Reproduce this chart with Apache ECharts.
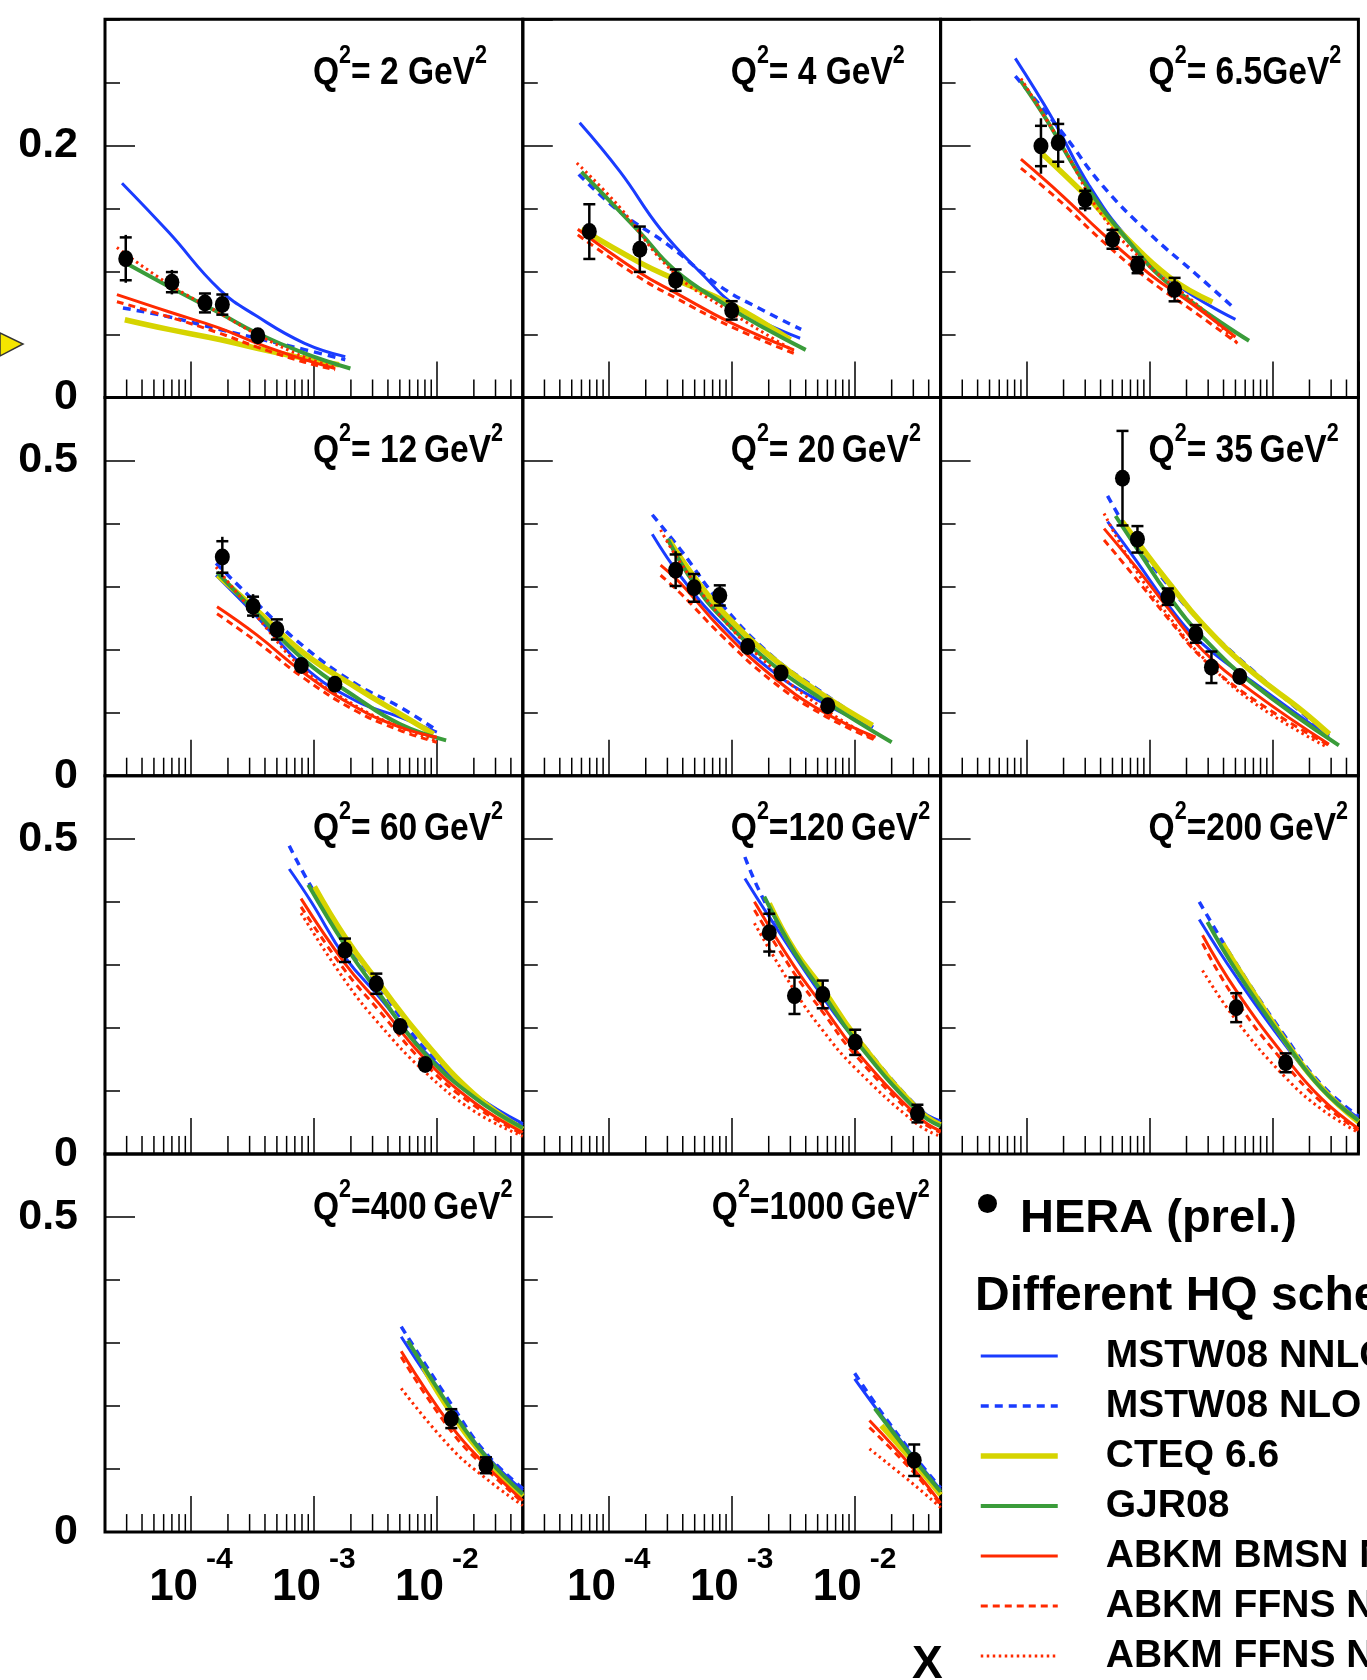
<!DOCTYPE html>
<html>
<head>
<meta charset="utf-8">
<title>F2 charm vs x</title>
<script src="https://cdn.jsdelivr.net/npm/echarts@6/dist/echarts.min.js"></script>
<style>
  html, body { margin: 0; padding: 0; background: #fff; }
  #chart { width: 1367px; height: 1680px; }
</style>
</head>
<body>
<div id="chart"></div>
<script>
// ---- data ----
const q2Labels = ['2', '4', '6.5', '12', '20', '35', '60', '120', '200', '400', '1000'];
const titleMid = ['= 2 GeV', '= 4 GeV', '= 6.5GeV', '= 12\u2009GeV', '= 20\u2009GeV', '= 35\u2009GeV',
  '= 60\u2009GeV', '=120\u2009GeV', '=200\u2009GeV', '=400\u2009GeV', '=1000\u2009GeV'];
const modelNames = ['MSTW08 NNLO', 'MSTW08 NLO', 'CTEQ 6.6', 'GJR08', 'ABKM BMSN NNLO', 'ABKM FFNS NNLO', 'ABKM FFNS NLO'];
const xMinorTicks = [3e-5, 4e-5, 5e-5, 6e-5, 7e-5, 8e-5, 9e-5,
  2e-4, 3e-4, 4e-4, 5e-4, 6e-4, 7e-4, 8e-4, 9e-4,
  2e-3, 3e-3, 4e-3, 5e-3, 6e-3, 7e-3, 8e-3, 9e-3,
  2e-2, 3e-2, 4e-2];

// HERA points: [x, F2cc, stat err, total err]
const hera = [
  [[2.95e-5, 0.110, 0.017, 0.019], [7e-5, 0.0915, 0.008, 0.0097], [1.3e-4, 0.075, 0.0075, 0.0075], [1.8e-4, 0.0737, 0.008, 0.008], [3.5e-4, 0.049, 0.003, 0.003]],
  [[6.95e-5, 0.1316, 0.0217, 0.0217], [1.79e-4, 0.1176, 0.018, 0.018], [3.5e-4, 0.0931, 0.0085, 0.0085], [1e-3, 0.0691, 0.0073, 0.0073]],
  [[1.31e-4, 0.1995, 0.016, 0.022], [1.81e-4, 0.202, 0.015, 0.0195], [3.0e-4, 0.157, 0.007, 0.0093], [5.0e-4, 0.1255, 0.0075, 0.0075], [8e-4, 0.105, 0.0064, 0.0064], [1.6e-3, 0.0856, 0.0093, 0.0093]],
  [[1.8e-4, 0.347, 0.025, 0.032], [3.2e-4, 0.269, 0.015, 0.019], [5.0e-4, 0.232, 0.016, 0.016], [7.9e-4, 0.175, 0.004, 0.004], [1.48e-3, 0.145, 0.004, 0.004]],
  [[3.5e-4, 0.326, 0.025, 0.030], [4.94e-4, 0.298, 0.022, 0.022], [8e-4, 0.286, 0.016, 0.016], [1.35e-3, 0.205, 0.005, 0.005], [2.52e-3, 0.163, 0.005, 0.005], [6.05e-3, 0.111, 0.005, 0.005]],
  [[6.03e-4, 0.472, 0.075, 0.075], [7.98e-4, 0.375, 0.021, 0.021], [1.41e-3, 0.284, 0.013, 0.013], [2.38e-3, 0.225, 0.014, 0.014], [3.19e-3, 0.172, 0.025, 0.025], [5.42e-3, 0.1575, 0.005, 0.005]],
  [[1.79e-3, 0.323, 0.0186, 0.0186], [3.22e-3, 0.270, 0.016, 0.016], [5.03e-3, 0.202, 0.004, 0.004], [8.05e-3, 0.142, 0.004, 0.004]],
  [[2.02e-3, 0.351, 0.030, 0.038], [3.24e-3, 0.251, 0.029, 0.029], [5.5e-3, 0.253, 0.022, 0.022], [1.01e-2, 0.177, 0.020, 0.020], [3.24e-2, 0.064, 0.014, 0.014]],
  [[5.07e-3, 0.232, 0.023, 0.023], [1.28e-2, 0.1445, 0.015, 0.015]],
  [[1.31e-2, 0.180, 0.015, 0.015], [2.51e-2, 0.106, 0.0126, 0.0126]],
  [[3.05e-2, 0.114, 0.025, 0.025]]
];

const mstwNnlo = [
  [[2.75e-5, 0.170], [6.6e-5, 0.131], [1.71e-4, 0.0856], [3.45e-4, 0.0644], [8.4e-4, 0.043], [1.8e-3, 0.0324]],
  [[5.8e-5, 0.218], [1.24e-4, 0.179], [2.64e-4, 0.1335], [5.6e-4, 0.099], [1.19e-3, 0.0697], [3.6e-3, 0.047]],
  [[8.1e-5, 0.269], [1.63e-4, 0.221], [3.24e-4, 0.168], [6.84e-4, 0.125], [1.64e-3, 0.090], [5.0e-3, 0.062]],
  [[1.6e-4, 0.318], [3.45e-4, 0.252], [8.4e-4, 0.172], [2.18e-3, 0.119], [5.0e-3, 0.093], [1.0e-2, 0.069]],
  [[2.26e-4, 0.383], [3.85e-4, 0.316], [8.2e-4, 0.241], [2.1e-3, 0.167], [5.35e-3, 0.117], [1.41e-2, 0.077]],
  [[4.56e-4, 0.403], [7.75e-4, 0.342], [1.45e-3, 0.268], [2.7e-3, 0.209], [6.9e-3, 0.149], [2.88e-2, 0.061]],
  [[6.3e-4, 0.452], [9.5e-4, 0.400], [1.79e-3, 0.312], [3.4e-3, 0.249], [7.8e-3, 0.164], [2.0e-2, 0.095], [5.0e-2, 0.048]],
  [[1.28e-3, 0.437], [2.02e-3, 0.376], [5.5e-3, 0.249], [1.0e-2, 0.182], [3.24e-2, 0.073], [5.0e-2, 0.052]],
  [[2.54e-3, 0.372], [5.07e-3, 0.281], [1.28e-2, 0.172], [2.5e-2, 0.105], [5.0e-2, 0.057]],
  [[5.13e-3, 0.310], [1.31e-2, 0.192], [2.51e-2, 0.122], [5.0e-2, 0.066]],
  [[1.0e-2, 0.243], [1.65e-2, 0.185], [3.05e-2, 0.118], [5.0e-2, 0.067]]
];

const mstwNlo = [
  [[2.8e-5, 0.071], [6.6e-5, 0.064], [1.71e-4, 0.054], [3.45e-4, 0.047], [8.4e-4, 0.038], [1.8e-3, 0.030]],
  [[5.7e-5, 0.177], [1.24e-4, 0.147], [3.0e-4, 0.1215], [8.1e-4, 0.088], [1.73e-3, 0.070], [3.67e-3, 0.054]],
  [[8.1e-5, 0.255], [1.96e-4, 0.210], [4.15e-4, 0.168], [1e-3, 0.130], [2.38e-3, 0.098], [5.0e-3, 0.070]],
  [[1.6e-4, 0.337], [3.45e-4, 0.273], [8.4e-4, 0.204], [2.18e-3, 0.146], [5.0e-3, 0.109], [1.0e-2, 0.072]],
  [[2.26e-4, 0.414], [3.85e-4, 0.358], [8.2e-4, 0.273], [2.1e-3, 0.191], [5.35e-3, 0.133], [1.41e-2, 0.077]],
  [[4.56e-4, 0.444], [7.75e-4, 0.369], [1.45e-3, 0.300], [2.7e-3, 0.241], [6.9e-3, 0.167], [2.88e-2, 0.064]],
  [[6.3e-4, 0.489], [9.5e-4, 0.424], [1.79e-3, 0.339], [3.4e-3, 0.265], [7.8e-3, 0.169], [2.0e-2, 0.095], [5.0e-2, 0.045]],
  [[1.28e-3, 0.471], [2.02e-3, 0.387], [5.5e-3, 0.259], [1.0e-2, 0.190], [3.24e-2, 0.074], [5.0e-2, 0.049]],
  [[2.54e-3, 0.400], [5.07e-3, 0.302], [1.28e-2, 0.185], [2.5e-2, 0.110], [5.0e-2, 0.060]],
  [[5.13e-3, 0.326], [1.31e-2, 0.203], [2.51e-2, 0.125], [5.0e-2, 0.069]],
  [[1.0e-2, 0.252], [1.65e-2, 0.190], [3.05e-2, 0.121], [5.0e-2, 0.070]]
];

const cteq66 = [
  [[2.9e-5, 0.0617], [6.6e-5, 0.054], [1.71e-4, 0.046], [3.45e-4, 0.039], [8.4e-4, 0.031], [1.6e-3, 0.026]],
  [[6e-5, 0.1335], [1.79e-4, 0.107], [3.5e-4, 0.0936], [1e-3, 0.0737], [3.0e-3, 0.0457]],
  [[1.35e-4, 0.193], [3.05e-4, 0.160], [6.0e-4, 0.130], [1.44e-3, 0.0957], [3.25e-3, 0.0758]],
  [[1.65e-4, 0.318], [3.45e-4, 0.262], [8.4e-4, 0.1935], [2.18e-3, 0.1405], [5.0e-3, 0.098], [9.4e-3, 0.066]],
  [[3.09e-4, 0.374], [4.94e-4, 0.3155], [8.2e-4, 0.2625], [2.1e-3, 0.188], [5.35e-3, 0.130], [1.4e-2, 0.080]],
  [[6.0e-4, 0.403], [7.98e-4, 0.371], [1.45e-3, 0.305], [2.7e-3, 0.241], [6.9e-3, 0.164], [1.75e-2, 0.103], [2.9e-2, 0.066]],
  [[1.01e-3, 0.424], [1.79e-3, 0.344], [3.4e-3, 0.270], [7.8e-3, 0.180], [2.0e-2, 0.095], [5.0e-2, 0.039]],
  [[2.02e-3, 0.3975], [3.24e-3, 0.323], [5.5e-3, 0.262], [1.0e-2, 0.188], [3.24e-2, 0.071], [5.0e-2, 0.046]],
  [[3.93e-3, 0.334], [5.07e-3, 0.299], [1.28e-2, 0.1785], [2.5e-2, 0.105], [5.0e-2, 0.051]],
  [[7.76e-3, 0.2615], [1.31e-2, 0.189], [2.51e-2, 0.117], [5.0e-2, 0.057]],
  [[1.65e-2, 0.169], [3.05e-2, 0.110], [5.0e-2, 0.059]]
];

const gjr08 = [
  [[2.9e-5, 0.107], [6.6e-5, 0.088], [1.71e-4, 0.067], [3.45e-4, 0.051], [8.4e-4, 0.035], [1.98e-3, 0.023]],
  [[6e-5, 0.179], [1.79e-4, 0.131], [3.4e-4, 0.1016], [9.25e-4, 0.0723], [1.96e-3, 0.0537], [4.0e-3, 0.0378]],
  [[9e-5, 0.251], [1.44e-4, 0.221], [3.05e-4, 0.168], [6.0e-4, 0.130], [1.44e-3, 0.090], [6.45e-3, 0.045]],
  [[1.63e-4, 0.323], [3.45e-4, 0.257], [8.4e-4, 0.183], [2.18e-3, 0.125], [5.0e-3, 0.082], [1.19e-2, 0.056]],
  [[3.0e-4, 0.376], [4.94e-4, 0.305], [8.2e-4, 0.252], [2.1e-3, 0.178], [5.35e-3, 0.122], [2.0e-2, 0.053]],
  [[5.3e-4, 0.412], [7.75e-4, 0.363], [1.45e-3, 0.284], [2.7e-3, 0.220], [6.9e-3, 0.146], [3.47e-2, 0.048]],
  [[9.0e-4, 0.427], [1.79e-3, 0.331], [3.4e-3, 0.254], [7.8e-3, 0.161], [2.0e-2, 0.090], [5.0e-2, 0.041]],
  [[1.84e-3, 0.408], [3.24e-3, 0.320], [5.5e-3, 0.255], [1.0e-2, 0.182], [3.24e-2, 0.068], [5.0e-2, 0.044]],
  [[2.96e-3, 0.368], [5.07e-3, 0.291], [1.28e-2, 0.177], [2.5e-2, 0.104], [5.0e-2, 0.053]],
  [[5.8e-3, 0.304], [1.31e-2, 0.1945], [2.51e-2, 0.1195], [5.0e-2, 0.0606]],
  [[1.46e-2, 0.196], [3.05e-2, 0.115], [5.0e-2, 0.064]]
];

const abkmBmsn = [
  [[2.5e-5, 0.0816], [6.6e-5, 0.068], [1.71e-4, 0.055], [3.45e-4, 0.043], [8.4e-4, 0.030], [1.49e-3, 0.023]],
  [[5.6e-5, 0.1335], [1.79e-4, 0.099], [3.5e-4, 0.083], [1e-3, 0.059], [3.2e-3, 0.0378]],
  [[9e-5, 0.189], [1.96e-4, 0.160], [4.15e-4, 0.130], [1e-3, 0.098], [2.38e-3, 0.072], [5.0e-3, 0.048]],
  [[1.63e-4, 0.268], [3.45e-4, 0.223], [8.4e-4, 0.162], [2.18e-3, 0.109], [5.0e-3, 0.077], [1.0e-2, 0.061]],
  [[2.64e-4, 0.334], [3.85e-4, 0.305], [8.2e-4, 0.233], [2.1e-3, 0.159], [5.35e-3, 0.103], [1.48e-2, 0.061]],
  [[4.27e-4, 0.392], [7.75e-4, 0.331], [1.45e-3, 0.263], [2.7e-3, 0.199], [6.9e-3, 0.133], [2.88e-2, 0.050]],
  [[7.86e-4, 0.405], [1.79e-3, 0.302], [3.4e-3, 0.238], [7.8e-3, 0.153], [2.0e-2, 0.082], [5.0e-2, 0.034]],
  [[1.53e-3, 0.400], [3.24e-3, 0.297], [5.5e-3, 0.235], [1.0e-2, 0.166], [3.24e-2, 0.060], [5.0e-2, 0.036]],
  [[2.7e-3, 0.347], [5.07e-3, 0.259], [1.28e-2, 0.153], [2.5e-2, 0.088], [5.0e-2, 0.040]],
  [[5.13e-3, 0.287], [1.31e-2, 0.168], [2.51e-2, 0.106], [5.0e-2, 0.050]],
  [[1.32e-2, 0.177], [3.05e-2, 0.099], [5.0e-2, 0.046]]
];

const abkmFfnsNnlo = [
  [[2.5e-5, 0.076], [6.6e-5, 0.064], [1.71e-4, 0.051], [3.45e-4, 0.040], [8.4e-4, 0.028], [1.49e-3, 0.022]],
  [[5.6e-5, 0.129], [1.79e-4, 0.095], [3.5e-4, 0.079], [1e-3, 0.056], [3.2e-3, 0.035]],
  [[9e-5, 0.182], [1.96e-4, 0.154], [4.15e-4, 0.124], [1e-3, 0.093], [2.38e-3, 0.067], [5.2e-3, 0.043]],
  [[1.63e-4, 0.257], [3.45e-4, 0.212], [8.4e-4, 0.154], [2.18e-3, 0.103], [5.0e-3, 0.072], [1.0e-2, 0.053]],
  [[2.64e-4, 0.318], [3.85e-4, 0.289], [8.2e-4, 0.223], [2.1e-3, 0.151], [5.35e-3, 0.098], [1.48e-2, 0.056]],
  [[4.27e-4, 0.374], [7.75e-4, 0.313], [1.45e-3, 0.247], [2.7e-3, 0.186], [6.9e-3, 0.122], [2.88e-2, 0.048]],
  [[7.86e-4, 0.392], [1.79e-3, 0.291], [3.4e-3, 0.227], [7.8e-3, 0.145], [2.0e-2, 0.077], [5.0e-2, 0.031]],
  [[1.53e-3, 0.387], [3.24e-3, 0.286], [5.5e-3, 0.225], [1.0e-2, 0.158], [3.24e-2, 0.056], [5.0e-2, 0.034]],
  [[2.7e-3, 0.334], [5.07e-3, 0.243], [1.28e-2, 0.142], [2.5e-2, 0.082], [5.0e-2, 0.037]],
  [[5.13e-3, 0.278], [1.31e-2, 0.160], [2.51e-2, 0.101], [5.0e-2, 0.047]],
  [[1.32e-2, 0.166], [3.05e-2, 0.094], [5.0e-2, 0.043]]
];

const abkmFfnsNlo = [
  [[2.5e-5, 0.119], [6.6e-5, 0.090], [1.71e-4, 0.067], [3.45e-4, 0.050], [8.4e-4, 0.032], [1.49e-3, 0.024]],
  [[5.5e-5, 0.186], [1.2e-4, 0.152], [3.3e-4, 0.100], [9e-4, 0.070], [3.2e-3, 0.037]],
  [[9e-5, 0.253], [1.96e-4, 0.1995], [4.15e-4, 0.144], [1e-3, 0.104], [2.38e-3, 0.0745], [5.2e-3, 0.043]],
  [[1.6e-4, 0.331], [3.45e-4, 0.252], [8.4e-4, 0.167], [2.18e-3, 0.111], [5.0e-3, 0.077], [1.0e-2, 0.055]],
  [[2.64e-4, 0.390], [3.85e-4, 0.337], [8.2e-4, 0.252], [2.1e-3, 0.172], [5.35e-3, 0.109], [1.45e-2, 0.058]],
  [[4.27e-4, 0.416], [7.75e-4, 0.326], [1.45e-3, 0.252], [2.7e-3, 0.188], [6.9e-3, 0.117], [2.8e-2, 0.045]],
  [[7.86e-4, 0.382], [1.79e-3, 0.275], [3.4e-3, 0.206], [7.8e-3, 0.132], [2.0e-2, 0.068], [5.0e-2, 0.028]],
  [[1.53e-3, 0.366], [3.24e-3, 0.259], [5.5e-3, 0.196], [1.0e-2, 0.137], [3.24e-2, 0.047], [5.0e-2, 0.028]],
  [[2.7e-3, 0.291], [5.07e-3, 0.212], [1.28e-2, 0.121], [2.5e-2, 0.071], [5.0e-2, 0.034]],
  [[5.13e-3, 0.228], [1.31e-2, 0.133], [2.51e-2, 0.085], [5.0e-2, 0.042]],
  [[1.32e-2, 0.132], [3.05e-2, 0.075], [5.0e-2, 0.039]]
];

// ---- styling ----
const modelData = [mstwNnlo, mstwNlo, cteq66, gjr08, abkmBmsn, abkmFfnsNnlo, abkmFfnsNlo];
const modelColors = ['#1a3cff', '#1a3cff', '#d6d400', '#3a9c3a', '#ff2a00', '#ff2a00', '#ff2a00'];
const modelWidths = [3, 3.5, 5.5, 4, 3, 3, 3];
const modelDash = ['solid', [8, 6], 'solid', 'solid', 'solid', [7, 5], [2.5, 3.5]];

const sans = "'Liberation Sans', Arial, Helvetica, sans-serif";

const gridLeft = 105, gridTop = 19.3, gridW = 417.8, gridH = 378.2;

const chart = echarts.init(document.getElementById('chart'), null, { renderer: 'canvas' });

const option = {
  animation: false,
  backgroundColor: '#fff',
  grid: [], xAxis: [], yAxis: [], series: [],
  legend: [],
  graphic: []
};

function renderMinorTick(params, api) {
  const p = api.coord([api.value(0), 0]);
  return {
    type: 'line',
    shape: { x1: p[0], y1: p[1], x2: p[0], y2: p[1] - 18 },
    style: { stroke: '#000', lineWidth: 1.5 }
  };
}

function renderErrorBar(params, api) {
  const x = api.value(0), y = api.value(1), s = api.value(2), t = api.value(3);
  const a = api.coord([x, y + t]), b = api.coord([x, y - t]);
  const c = api.coord([x, y + s]), d = api.coord([x, y - s]);
  const st = { stroke: '#000', lineWidth: 2.5 };
  return {
    type: 'group',
    children: [
      { type: 'line', shape: { x1: a[0], y1: a[1], x2: b[0], y2: b[1] }, style: st },
      { type: 'line', shape: { x1: c[0] - 6, y1: c[1], x2: c[0] + 6, y2: c[1] }, style: st },
      { type: 'line', shape: { x1: d[0] - 6, y1: d[1], x2: d[0] + 6, y2: d[1] }, style: st }
    ]
  };
}

function decadeLabel(v) {
  const lg = Math.log10(v);
  const e = Math.round(lg);
  if (Math.abs(lg - e) > 0.01) return '';
  return '{b|10}{s|' + e + '}';
}

q2Labels.forEach((q, i) => {
  const row = Math.floor(i / 3), col = i % 3;
  const left = gridLeft + col * gridW, top = gridTop + row * gridH;
  const yMax = row === 0 ? 0.3 : 0.6;
  const majorStep = row === 0 ? 0.2 : 0.5;
  const minorStep = row === 0 ? 0.05 : 0.1;

  option.grid.push({
    left: left, top: top, width: gridW, height: gridH,
    show: true, borderColor: '#000', borderWidth: 3, backgroundColor: 'transparent',
    outerBoundsMode: 'none'
  });

  // panel title, narrowed like the condensed face of the original
  option.graphic.push({
    type: 'text', x: left + (q === '1000' ? 189 : 208), y: top + 24, scaleX: 0.86,
    style: {
      text: '{q|Q}{s|2}{q|' + titleMid[i] + '}{s|2}',
      rich: {
        q: { fontSize: 39, fontWeight: 'bold', fontFamily: sans, fill: '#000', lineHeight: 60 },
        s: { fontSize: 25, fontWeight: 'bold', fontFamily: sans, fill: '#000', lineHeight: 24, verticalAlign: 'top' }
      }
    },
    z: 10
  });

  option.xAxis.push({
    type: 'log', logBase: 10, gridIndex: i, min: 2e-5, max: 0.05,
    axisLine: { show: false },
    splitLine: { show: false },
    axisTick: { show: true, inside: true, length: 36, lineStyle: { color: '#000', width: 1.5 } },
    axisLabel: {
      show: row === 3, interval: 0, margin: 13, color: '#000',
      formatter: decadeLabel,
      rich: {
        b: { fontSize: 44, fontWeight: 'bold', fontFamily: sans, color: '#000', lineHeight: 86 },
        s: { fontSize: 30, fontWeight: 'bold', fontFamily: sans, color: '#000', lineHeight: 32, verticalAlign: 'top', padding: [0, 0, 0, 8] }
      }
    }
  });

  // minor y ticks
  option.yAxis.push({
    type: 'value', gridIndex: i, position: 'left', min: 0, max: yMax, interval: minorStep,
    axisLine: { show: false }, splitLine: { show: false },
    axisTick: { show: true, inside: true, length: 15, lineStyle: { color: '#000', width: 1.5 } },
    axisLabel: { show: false }
  });
  // major y ticks + labels
  option.yAxis.push({
    type: 'value', gridIndex: i, position: 'left', offset: 0, min: 0, max: yMax, interval: majorStep,
    axisLine: { show: false }, splitLine: { show: false },
    axisTick: { show: true, inside: true, length: 30, lineStyle: { color: '#000', width: 1.5 } },
    axisLabel: {
      show: col === 0, margin: 27, color: '#000', fontSize: 43, fontWeight: 'bold', fontFamily: sans,
      showMaxLabel: false,
      formatter: v => (Math.abs(v) < 1e-9 ? '0' : (Math.abs(v - majorStep) < 1e-9 ? String(majorStep) : ''))
    }
  });

  option.series.push({
    type: 'custom', name: 'xMinor' + i, xAxisIndex: i, yAxisIndex: 2 * i,
    data: xMinorTicks.map(v => [v, 0]), encode: { x: 0, y: 1 },
    renderItem: renderMinorTick, silent: true, z: 1
  });

  modelNames.forEach((name, k) => {
    option.series.push({
      type: 'line', name: name, xAxisIndex: i, yAxisIndex: 2 * i,
      data: modelData[k][i], symbol: 'none', showSymbol: false,
      smooth: 0.45, clip: true,
      lineStyle: { color: modelColors[k], width: modelWidths[k], type: modelDash[k], cap: 'butt' },
      itemStyle: { color: modelColors[k] },
      z: 2 + k * 0.01
    });
  });

  option.series.push({
    type: 'custom', name: 'errors' + i, xAxisIndex: i, yAxisIndex: 2 * i,
    data: hera[i], encode: { x: 0, y: 1 }, renderItem: renderErrorBar, z: 4
  });

  option.series.push({
    type: 'scatter', name: 'HERA (prel.)', xAxisIndex: i, yAxisIndex: 2 * i,
    data: hera[i].map(p => [p[0], p[1]]), symbol: 'circle', symbolSize: [15, 17],
    itemStyle: { color: '#000', opacity: 1 }, z: 5
  });
});

option.legend.push({
  data: [{ name: 'HERA (prel.)', icon: 'circle', itemStyle: { color: '#000', opacity: 1 } }],
  left: 978, top: 1164, padding: 0, selectedMode: false,
  itemWidth: 19, itemHeight: 19,
  formatter: n => '{t|' + n + '}',
  textStyle: {
    color: '#000',
    rich: { t: { fontSize: 47, fontWeight: 'bold', fontFamily: sans, color: '#000', lineHeight: 50, padding: [32, 0, 0, 18] } }
  }
});

option.legend.push({
  data: modelNames.map((n, k) => ({ name: n, lineStyle: { width: modelWidths[k] }, itemStyle: { opacity: 0 } })),
  orient: 'vertical', left: 978, top: 1336, padding: 0, selectedMode: false,
  itemWidth: 77, itemHeight: 14, itemGap: 10,
  textStyle: { fontSize: 39, fontWeight: 'bold', fontFamily: sans, color: '#000', lineHeight: 40, padding: [0, 0, 0, 43] }
});

option.graphic.push(
  {
    type: 'text', left: 975, top: 1273,
    style: { text: 'Different HQ schemes', fontSize: 48, fontWeight: 'bold', fontFamily: sans, fill: '#000' }
  },
  {
    type: 'text', left: 912, top: 1642,
    style: { text: 'X', fontSize: 46, fontWeight: 'bold', fontFamily: sans, fill: '#000' }
  },
  {
    type: 'polygon',
    shape: { points: [[0, 333], [23, 344], [0, 356]] },
    style: { fill: '#f5e600', stroke: '#333', lineWidth: 1.5 }
  }
);

chart.setOption(option);
</script>
</body>
</html>
